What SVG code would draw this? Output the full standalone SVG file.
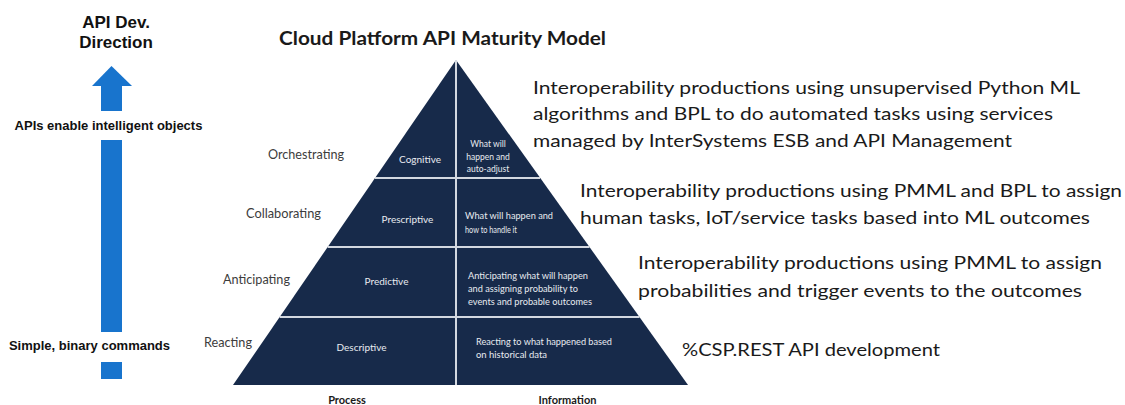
<svg xmlns="http://www.w3.org/2000/svg" width="1125" height="405" viewBox="0 0 1125 405">
<style>
.arrowtxt{font-family:"Liberation Sans",Arial,sans-serif;font-weight:bold;fill:#111;}
.title{font-family:Lato,"Open Sans",sans-serif;font-weight:bold;font-size:19px;fill:#1a1a1a;}
.side{font-family:Lato,"Open Sans",sans-serif;font-size:13.5px;fill:#3c3c3c;}
.proc{font-family:Lato,"Open Sans",sans-serif;font-size:10px;fill:#e8ebf0;text-anchor:middle;}
.info{font-family:Lato,"Open Sans",sans-serif;font-size:8.5px;fill:#e8ebf0;}
.axis{font-family:Lato,"Open Sans",sans-serif;font-weight:bold;font-size:11px;fill:#1a1a1a;}
.note{font-family:Lato,"Open Sans",sans-serif;font-size:18px;fill:#1a1a1a;}
.sep{stroke:#d3d8e0;stroke-width:2;}
.blue{fill:#1874cd;}
</style>
<rect width="1125" height="405" fill="#ffffff"/>

<g id="direction-arrow">
  <text class="arrowtxt" x="116" y="28" font-size="17" text-anchor="middle">API Dev.</text>
  <text class="arrowtxt" x="116" y="48" font-size="17" text-anchor="middle">Direction</text>
  <polygon class="blue" points="111.5,66 132,86 92,86"/>
  <rect class="blue" x="101" y="86" width="21" height="25"/>
  <text class="arrowtxt" x="108.5" y="130" font-size="13" text-anchor="middle">APIs enable intelligent objects</text>
  <rect class="blue" x="101" y="140" width="21" height="192"/>
  <text class="arrowtxt" x="89.5" y="350" font-size="13" text-anchor="middle">Simple, binary commands</text>
  <rect class="blue" x="101" y="362" width="21" height="17"/>
</g>

<g id="title">
  <text class="title" x="279" y="45" textLength="327" lengthAdjust="spacingAndGlyphs">Cloud Platform API Maturity Model</text>
</g>

<g id="pyramid">
  <polygon points="456,60 688,385 233,385" fill="#172a4a"/>
  <line class="sep" x1="456" y1="60" x2="456" y2="385" stroke-width="1.5"/>
  <line class="sep" x1="375" y1="178" x2="540" y2="178"/>
  <line class="sep" x1="327.7" y1="247" x2="589.5" y2="247"/>
  <line class="sep" x1="279.7" y1="317" x2="639.5" y2="317"/>
</g>

<g id="tier-cognitive">
  <text class="side" x="268" y="159" textLength="76" lengthAdjust="spacingAndGlyphs">Orchestrating</text>
  <text class="proc" x="420" y="163">Cognitive</text>
  <text class="info" x="488" y="147" text-anchor="middle">What will</text>
  <text class="info" x="488" y="160" text-anchor="middle">happen and</text>
  <text class="info" x="488" y="172" text-anchor="middle">auto-adjust</text>
</g>

<g id="tier-prescriptive">
  <text class="side" x="246" y="218" textLength="75" lengthAdjust="spacingAndGlyphs">Collaborating</text>
  <text class="proc" x="407.5" y="223">Prescriptive</text>
  <text class="info" x="465" y="219" textLength="88" lengthAdjust="spacingAndGlyphs">What will happen and</text>
  <text class="info" x="465" y="233" textLength="52" lengthAdjust="spacingAndGlyphs">how to handle it</text>
</g>

<g id="tier-predictive">
  <text class="side" x="223" y="284" textLength="67" lengthAdjust="spacingAndGlyphs">Anticipating</text>
  <text class="proc" x="386.5" y="285">Predictive</text>
  <text class="info" x="468" y="279" textLength="120" lengthAdjust="spacingAndGlyphs">Anticipating what will happen</text>
  <text class="info" x="468" y="292" textLength="110" lengthAdjust="spacingAndGlyphs">and assigning probability to</text>
  <text class="info" x="468" y="305" textLength="124" lengthAdjust="spacingAndGlyphs">events and probable outcomes</text>
</g>

<g id="tier-descriptive">
  <text class="side" x="204" y="347" textLength="48" lengthAdjust="spacingAndGlyphs">Reacting</text>
  <text class="proc" x="361.5" y="351">Descriptive</text>
  <text class="info" x="476" y="345" textLength="136" lengthAdjust="spacingAndGlyphs">Reacting to what happened based</text>
  <text class="info" x="476" y="358" textLength="71" lengthAdjust="spacingAndGlyphs">on historical data</text>
</g>

<g id="axis-labels">
  <text class="axis" x="347" y="404" text-anchor="middle">Process</text>
  <text class="axis" x="567.5" y="404" text-anchor="middle">Information</text>
</g>

<g id="note-cognitive">
  <text class="note" x="533" y="94" textLength="547" lengthAdjust="spacingAndGlyphs">Interoperability productions using unsupervised  Python ML</text>
  <text class="note" x="533" y="120" textLength="520" lengthAdjust="spacingAndGlyphs">algorithms and BPL to do automated tasks using services</text>
  <text class="note" x="533" y="147" textLength="479" lengthAdjust="spacingAndGlyphs">managed by InterSystems ESB and API Management</text>
</g>

<g id="note-prescriptive">
  <text class="note" x="580" y="197" textLength="542" lengthAdjust="spacingAndGlyphs">Interoperability productions using PMML and BPL to assign</text>
  <text class="note" x="580" y="224" textLength="510" lengthAdjust="spacingAndGlyphs">human tasks, IoT/service tasks based into ML outcomes</text>
</g>

<g id="note-predictive">
  <text class="note" x="638" y="269" textLength="464" lengthAdjust="spacingAndGlyphs">Interoperability productions using PMML to assign</text>
  <text class="note" x="638" y="297" textLength="444" lengthAdjust="spacingAndGlyphs">probabilities and trigger events to the outcomes</text>
</g>

<g id="note-descriptive">
  <text class="note" x="682" y="356" textLength="258" lengthAdjust="spacingAndGlyphs">%CSP.REST API development</text>
</g>

<g id="connectors"></g>
</svg>
